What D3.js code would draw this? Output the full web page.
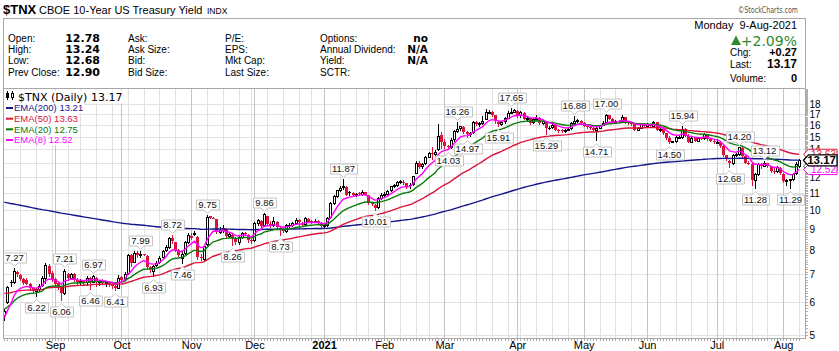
<!DOCTYPE html>
<html><head><meta charset="utf-8">
<script src="https://cdn.jsdelivr.net/npm/d3@7"></script>
<style>html,body{margin:0;padding:0;background:#fff}svg{display:block}</style>
</head><body><svg id="chart" width="839" height="351"></svg>
<script>
// ---------------- DATA ----------------
const firstDay = "2020-08-10", lastDay = "2021-08-09";
const holidays = ["2020-09-07","2020-11-26","2020-12-25","2021-01-01","2021-01-18","2021-02-15","2021-04-02","2021-05-31","2021-07-05"];

const open = [5.60,6.02,6.72,6.72,7.10,6.98,6.84,6.80,6.62,6.50,
6.38,6.45,6.60,6.86,7.34,7.06,6.82,6.68,6.52,6.30,
7.02,6.86,7.00,6.80,6.70,6.74,6.70,6.86,6.72,6.86,
6.70,6.76,6.68,6.70,6.62,6.58,6.50,6.90,6.82,7.05,
7.80,7.50,7.90,7.80,7.82,7.76,7.30,7.12,7.38,7.50,
7.70,8.00,8.15,8.56,8.36,8.00,7.66,7.90,8.40,8.62,
8.80,8.60,7.70,7.62,8.30,9.66,9.58,9.50,8.86,8.96,
9.02,8.66,8.70,8.52,8.36,8.60,8.82,8.72,8.46,8.45,
9.30,9.42,9.20,9.66,9.26,9.20,9.36,9.05,8.95,8.90,
9.22,9.20,9.30,9.46,9.30,9.25,9.50,9.42,9.42,9.40,
9.30,9.15,9.20,9.60,10.40,10.80,11.20,11.35,11.35,11.05,
10.98,10.90,10.98,10.94,11.05,10.85,10.42,10.30,10.15,10.72,
10.86,10.95,11.15,11.40,11.50,11.70,11.70,11.60,11.50,11.55,
12.30,13.00,12.75,12.95,13.45,13.72,13.65,14.00,15.20,14.55,
14.30,14.16,14.80,15.50,15.80,15.86,15.40,15.30,15.40,16.30,
16.10,16.25,16.60,17.20,17.20,16.90,16.30,16.10,16.35,16.70,
17.15,17.26,17.35,16.90,17.15,16.60,16.65,16.30,16.60,16.70,
16.20,16.30,15.80,15.85,16.00,15.60,15.55,15.50,15.60,15.75,
16.20,16.38,16.40,16.20,15.95,15.85,15.75,15.60,15.80,16.05,
16.30,16.90,16.60,16.35,16.42,16.40,16.75,16.30,16.25,16.10,
15.60,15.80,16.10,15.90,16.10,15.90,16.30,15.60,15.70,15.30,
14.90,14.60,14.65,15.00,15.00,15.70,15.10,14.62,14.90,14.70,
14.90,14.90,15.20,14.80,14.70,14.56,14.60,14.30,13.55,13.10,
12.95,13.60,13.65,14.10,13.50,13.00,12.90,11.80,12.20,12.90,
12.80,12.95,12.75,12.40,12.40,12.65,12.20,11.75,11.80,11.85,
12.25,12.78];
const high = [5.78,6.58,6.80,7.27,7.14,7.00,6.86,6.88,6.66,6.52,
6.50,6.62,6.92,7.45,7.40,7.15,6.88,6.72,6.58,7.21,
7.06,7.05,7.05,6.85,6.82,6.78,6.95,6.90,6.97,6.90,
6.80,6.82,6.75,6.72,6.70,6.62,6.98,6.95,7.08,7.82,
7.86,7.95,7.96,7.99,7.84,7.78,7.35,7.38,7.55,7.75,
8.02,8.22,8.62,8.72,8.40,8.05,7.95,8.42,8.80,8.82,
8.90,8.66,7.82,8.25,9.75,9.70,9.60,9.52,9.10,9.20,
9.06,8.86,8.76,8.60,8.66,8.86,8.86,8.76,8.52,9.36,
9.50,9.46,9.86,9.70,9.40,9.60,9.40,9.12,9.10,9.25,
9.30,9.35,9.55,9.50,9.38,9.60,9.55,9.45,9.50,9.45,
9.35,9.30,9.60,10.45,10.85,11.20,11.45,11.87,11.40,11.12,
11.05,11.00,11.05,11.15,11.08,10.90,10.48,10.36,10.75,11.00,
11.05,11.20,11.45,11.55,11.75,11.82,11.80,11.65,11.60,12.10,
13.15,13.10,12.96,13.50,13.82,14.20,13.92,16.14,15.40,14.80,
14.36,14.90,15.60,16.26,15.96,15.90,15.50,15.40,16.40,16.40,
16.30,16.85,17.55,17.45,17.30,16.95,16.35,16.40,16.80,17.30,
17.65,17.50,17.40,17.35,17.20,16.85,16.70,16.70,16.90,16.75,
16.50,16.35,15.95,16.15,16.05,15.70,15.70,15.70,15.80,16.30,
16.88,16.60,16.45,16.30,16.05,16.00,15.85,15.90,16.05,16.35,
17.00,16.95,16.65,16.50,16.50,16.90,16.80,16.40,16.30,16.15,
15.85,16.15,16.20,16.20,16.15,16.35,16.30,15.75,15.75,15.35,
15.10,14.70,15.05,15.10,15.94,15.80,15.25,15.00,14.95,14.95,
14.95,15.30,15.25,14.90,14.75,14.80,14.65,14.35,13.60,13.20,
13.65,13.75,14.20,14.15,13.55,13.10,12.95,12.30,12.95,13.00,
13.12,13.00,12.80,12.60,12.75,12.70,12.25,11.85,11.90,12.25,
13.05,13.24];
const low = [5.45,5.98,6.55,6.68,6.92,6.78,6.62,6.62,6.42,6.30,
6.22,6.40,6.55,6.66,6.95,6.75,6.55,6.45,6.06,6.28,
6.80,6.82,6.74,6.64,6.65,6.62,6.60,6.46,6.70,6.58,
6.60,6.62,6.58,6.55,6.50,6.41,6.48,6.72,6.80,7.02,
7.35,7.48,7.72,7.72,7.78,7.22,7.10,6.93,7.34,7.45,
7.65,7.95,8.10,8.35,7.95,7.75,7.46,7.85,8.35,8.50,
8.72,7.62,7.58,7.58,8.25,9.55,9.56,8.80,8.80,8.86,
8.60,8.60,8.26,8.30,8.30,8.55,8.70,8.40,8.35,8.42,
9.20,9.05,9.18,9.20,9.12,9.15,9.00,8.73,8.85,8.85,
9.10,9.15,9.25,9.05,9.15,9.20,9.35,9.30,9.35,9.25,
9.10,9.08,9.15,9.58,10.35,10.75,11.10,11.25,10.85,10.85,
10.85,10.84,10.88,10.90,10.85,10.35,10.28,10.01,10.10,10.65,
10.80,10.90,11.10,11.35,11.45,11.60,11.55,11.30,11.30,11.50,
12.25,12.60,12.60,12.90,13.40,13.30,13.50,13.95,14.10,14.10,
14.03,14.10,14.70,15.40,15.60,15.35,14.97,15.10,15.35,16.00,
15.90,16.10,16.55,17.10,16.85,16.25,15.91,16.00,16.25,16.65,
17.10,17.20,16.80,16.80,16.55,16.50,16.15,16.25,16.55,16.10,
16.15,15.29,15.70,15.80,15.55,15.45,15.40,15.45,15.55,15.70,
16.10,16.28,16.20,15.90,15.75,15.70,15.50,14.71,15.75,16.00,
16.25,16.55,16.25,16.30,16.30,16.35,16.25,16.15,16.05,15.55,
15.55,15.75,15.85,15.85,15.85,15.85,15.55,15.50,15.25,14.85,
14.50,14.55,14.60,14.90,14.95,15.05,14.55,14.58,14.65,14.65,
14.80,14.85,14.75,14.65,14.51,14.52,14.20,13.50,13.20,12.68,
12.90,13.50,13.60,13.45,12.95,12.90,11.50,11.28,12.15,12.65,
12.75,12.70,12.35,12.30,12.35,12.20,11.70,11.50,11.29,11.80,
12.20,12.68];
const close = [5.70,6.52,6.66,7.12,7.00,6.82,6.68,6.65,6.48,6.38,
6.45,6.58,6.86,7.36,7.02,6.80,6.64,6.55,6.30,7.15,
6.86,7.00,6.80,6.70,6.74,6.70,6.88,6.72,6.94,6.70,
6.76,6.68,6.71,6.60,6.58,6.50,6.86,6.80,7.02,7.80,
7.45,7.90,7.78,7.82,7.80,7.28,7.20,7.35,7.46,7.66,
7.96,8.16,8.56,8.42,8.00,7.80,7.86,8.36,8.70,8.68,
8.82,7.70,7.66,8.20,9.60,9.58,9.57,8.85,8.96,9.06,
8.66,8.76,8.56,8.36,8.60,8.80,8.76,8.46,8.42,9.30,
9.46,9.16,9.76,9.26,9.20,9.40,9.10,8.95,8.90,9.20,
9.21,9.30,9.48,9.35,9.20,9.55,9.38,9.35,9.40,9.30,
9.15,9.20,9.55,10.40,10.80,11.15,11.30,11.40,10.90,10.98,
10.90,10.96,10.94,11.05,10.90,10.40,10.36,10.14,10.70,10.86,
10.95,11.10,11.40,11.50,11.66,11.72,11.60,11.36,11.45,12.05,
12.98,12.72,12.90,13.45,13.70,13.65,13.82,15.10,14.60,14.30,
14.16,14.75,15.50,15.70,15.90,15.40,15.25,15.32,16.30,16.10,
16.22,16.40,17.20,17.26,16.90,16.35,16.10,16.30,16.65,17.10,
17.26,17.40,16.85,17.20,16.60,16.70,16.25,16.60,16.70,16.20,
16.35,15.75,15.78,16.05,15.60,15.55,15.50,15.60,15.70,16.20,
16.35,16.45,16.25,15.95,15.85,15.75,15.60,15.80,16.00,16.25,
16.90,16.60,16.30,16.42,16.40,16.80,16.30,16.25,16.10,15.60,
15.80,16.10,15.90,16.10,15.90,16.30,15.60,15.70,15.30,14.90,
14.60,14.65,15.00,15.02,15.70,15.10,14.62,14.90,14.70,14.90,
14.88,15.25,14.80,14.70,14.56,14.60,14.30,13.55,13.25,12.95,
13.60,13.65,14.15,13.50,13.00,12.95,11.80,12.20,12.90,12.75,
13.00,12.80,12.40,12.35,12.70,12.25,11.75,11.80,11.85,12.20,
12.90,13.17];

const emaPeriods = [200, 50, 20, 8];
const emaStart   = [10.45, 6.30, 5.77, 5.50];   // indicator level at the first visible bar
const emaLast    = ["13.21", "13.63", "12.75", "12.52"];
const emaColors  = ["#16168c", "#dc143c", "#0a7a0a", "#ff00ff"];

const yTicks = [5,6,7,8,9,10,11,12,13,14,15,16,17,18];

const labelBars   = [3,10,18,19,27,28,35,43,47,53,56,64,72,82,87,107,117,140,143,146,156,160,171,180,187,190,210,214,229,232,237,240,248];
const labelValues = ["7.27","6.22","6.06","7.21","6.46","6.97","6.41","7.99","6.93","8.72","7.46","9.75","8.26","9.86","8.73","11.87","10.01","14.03","16.26","14.97","15.91","17.65","15.29","16.88","14.71","17.00","14.50","15.94","12.68","14.20","11.28","13.12","11.29"];
const labelKinds  = ["H","L","L","H","L","H","L","H","L","H","L","H","L","H","L","H","L","L","H","L","L","H","L","H","L","H","L","H","L","H","L","H","L"];

const quoteCol1 = ["Open:","High:","Low:","Prev Close:"];
const quoteVal1 = ["12.78","13.24","12.68","12.90"];
const quoteCol2 = ["Ask:","Ask Size:","Bid:","Bid Size:"];
const quoteCol3 = ["P/E:","EPS:","Mkt Cap:","Last Size:"];
const quoteCol4 = ["Options:","Annual Dividend:","Yield:","SCTR:"];
const quoteVal4 = ["no","N/A","N/A",""];
const rightLabels = ["Chg:","Last:","Volume:"];
const rightValues = ["+0.27","13.17","0"];
const lastPrice = "13.17", pctChange = "+2.09%", quoteDate = "Monday  9-Aug-2021";

// ---------------- DRAW ----------------
const SANS = '"Liberation Sans", Arial, sans-serif';
const VER  = '"DejaVu Sans", Verdana, sans-serif';
const svg = d3.select("#chart");
const PL = 3.5, PR = 805.5, PT = 88.5, PB = 338.5;

const iso = d3.utcFormat("%Y-%m-%d");
const hol = new Set(holidays);
const d0 = new Date(firstDay + "T00:00:00Z"), d1 = new Date(lastDay + "T00:00:00Z");
const days = d3.utcDay.range(d0, d3.utcDay.offset(d1, 1))
  .filter(d => d.getUTCDay() % 6 !== 0 && !hol.has(iso(d)));
const N = close.length;

const x = d3.scaleLinear().domain([0, N - 1]).range([4.3, 799]);
const y = d3.scaleLog().domain([4.92, 19.68]).range([338, 88]);
const col = i => Math.round(x(i));

// header
svg.append("rect").attr("x", PL).attr("y", 18.5).attr("width", PR - PL).attr("height", PT - 18.5)
  .attr("fill", "#fff").attr("stroke", "#a8a8a8");
const title = svg.append("g");
title.append("text").attr("x", 3).attr("y", 13.5).attr("font-family", SANS).attr("font-weight", "bold")
  .attr("font-size", 13).text("$TNX");
title.append("text").attr("x", 39).attr("y", 13.5).attr("font-family", SANS).attr("font-size", 11).text("CBOE 10-Year US Treasury Yield");
title.append("text").attr("x", 207).attr("y", 13.5).attr("font-family", SANS).attr("font-size", 8.5).text("INDX");
svg.append("text").attr("x", 798).attr("y", 13).attr("text-anchor", "end").attr("font-family", VER)
  .attr("font-size", 9).attr("fill", "#555").attr("textLength", 60).attr("lengthAdjust", "spacingAndGlyphs")
  .text("\u00A9StockCharts.com");

const rowY = [42, 53, 64, 76];
function colText(arr, xx, opts) {
  svg.append("g").selectAll("text").data(arr).join("text")
    .attr("x", xx).attr("y", (d, i) => rowY[i])
    .attr("font-family", opts.font || SANS).attr("font-size", opts.size || 10)
    .attr("font-weight", opts.bold ? "bold" : null)
    .attr("text-anchor", opts.anchor || "start").text(d => d);
}
colText(quoteCol1, 8, {});
colText(quoteVal1, 100, {font: VER, size: 11, bold: true, anchor: "end"});
colText(quoteCol2, 128, {});
colText(quoteCol3, 225, {});
colText(quoteCol4, 320, {});
colText(quoteVal4, 428, {font: VER, size: 10.5, bold: true, anchor: "end"});

svg.append("text").attr("x", 797).attr("y", 29).attr("text-anchor", "end").attr("font-family", SANS)
  .attr("font-size", 11).attr("xml:space", "preserve").text(quoteDate);
svg.append("path").attr("d", "M731,45 L736,35.5 L741,45 Z").attr("fill", "#2f8a2f");
svg.append("text").attr("x", 797).attr("y", 45.5).attr("text-anchor", "end").attr("font-family", VER)
  .attr("font-size", 14).attr("fill", "#2f8a2f").text(pctChange);
const rY = [56, 68, 82];
svg.append("g").selectAll("text").data(rightLabels).join("text")
  .attr("x", 730).attr("y", (d, i) => rY[i]).attr("font-family", SANS).attr("font-size", 10).text(d => d);
svg.append("g").selectAll("text").data(rightValues).join("text")
  .attr("x", 797).attr("y", (d, i) => rY[i]).attr("text-anchor", "end").attr("font-family", SANS)
  .attr("font-weight", "bold").attr("font-size", (d, i) => i === 1 ? 12 : 11).text(d => d);

// plot background + grid
svg.append("rect").attr("x", PL).attr("y", PT).attr("width", PR - PL).attr("height", PB - PT).attr("fill", "#fff");
const grid = svg.append("g").attr("shape-rendering", "crispEdges");
grid.selectAll("line.h").data(yTicks).join("line")
  .attr("x1", PL).attr("x2", PR).attr("y1", d => Math.round(y(d)) + 0.5).attr("y2", d => Math.round(y(d)) + 0.5)
  .attr("stroke", "#e2e2e2");
const weekIdx = d3.range(1, N).filter(i => days[i] && +d3.utcMonday.floor(days[i]) !== +d3.utcMonday.floor(days[i - 1]));
const monthIdx = d3.range(1, N).filter(i => days[i] && days[i].getUTCMonth() !== days[i - 1].getUTCMonth());
grid.selectAll("line.w").data(weekIdx).join("line")
  .attr("x1", i => col(i) + 0.5).attr("x2", i => col(i) + 0.5).attr("y1", PT).attr("y2", PB)
  .attr("stroke", "#e2e2e2");
grid.selectAll("line.m").data(monthIdx).join("line")
  .attr("x1", i => col(i) + 0.5).attr("x2", i => col(i) + 0.5).attr("y1", PT).attr("y2", PB)
  .attr("stroke", "#c4c4c4").attr("stroke-width", 1.5);

// clip
svg.append("clipPath").attr("id", "plotclip").append("rect")
  .attr("x", PL + 0.5).attr("y", PT + 0.5).attr("width", PR - PL - 1).attr("height", PB - PT - 1);
const plot = svg.append("g").attr("clip-path", "url(#plotclip)");

// EMAs
function ema(seed, period) {
  const a = 2 / (period + 1), out = [seed];
  for (let i = 1; i < N; i++) out.push(out[i - 1] + a * (close[i] - out[i - 1]));
  return out;
}
const emaSeries = emaPeriods.map((p, k) => ema(emaStart[k], p));

// candles
const candles = plot.append("g").attr("shape-rendering", "crispEdges");
d3.range(N).forEach(i => {
  const o = open[i], c = close[i];
  const h = Math.max(high[i], o, c), l = Math.min(low[i], o, c);
  const color = (i === 0 || c >= close[i - 1]) ? "#000" : "#d8143a";
  const n = col(i);
  const yt = Math.round(y(Math.max(o, c))), yb = Math.round(y(Math.min(o, c)));
  candles.append("line").attr("x1", n + 0.5).attr("x2", n + 0.5)
    .attr("y1", Math.round(y(h))).attr("y2", Math.round(y(l)) + 1).attr("stroke", color);
  if (c >= o) {
    candles.append("rect").attr("x", n - 0.5).attr("y", yt + 0.5).attr("width", 2)
      .attr("height", Math.max(1, yb - yt)).attr("fill", "#fff").attr("stroke", color);
  } else {
    candles.append("rect").attr("x", n - 1).attr("y", yt).attr("width", 3)
      .attr("height", Math.max(1, yb - yt)).attr("fill", color);
  }
});

const line = d3.line().x((d, i) => x(i)).y(d => y(d));
emaSeries.forEach((s, k) => {
  plot.append("path").attr("d", line(s)).attr("fill", "none")
    .attr("stroke", emaColors[k]).attr("stroke-width", 1.4);
});

// value labels
const lab = svg.append("g");
labelBars.forEach((b, k) => {
  const v = +labelValues[k], cx = col(b) + 0.5;
  const t = lab.append("text").attr("font-family", SANS).attr("font-size", 9.5).attr("text-anchor", "middle")
    .attr("fill", "#111").text(labelValues[k]);
  const w = t.node().getComputedTextLength() + 4, hh = 10;
  const l = Math.round(cx - w / 2) + 0.5, r = l + Math.round(w);
  let d, ty;
  if (labelKinds[k] === "H") {
    const tip = Math.round(y(v)) - 1.5, b2 = tip - 3.5, top = b2 - hh;
    d = `M${l},${top}H${r}V${b2}H${cx + 3.5}L${cx},${tip}L${cx - 3.5},${b2}H${l}Z`;
    ty = top + hh / 2;
  } else {
    const tip = Math.round(y(v)) + 3.5, t2 = tip + 3.5, bot = t2 + hh;
    d = `M${l},${t2}H${cx - 3.5}L${cx},${tip}L${cx + 3.5},${t2}H${r}V${bot}H${l}Z`;
    ty = t2 + hh / 2;
  }
  lab.insert("path", "text").attr("d", d).attr("fill", "#fff").attr("stroke", "#c4c4c4");
  t.attr("x", cx).attr("y", ty).attr("dy", "0.35em");
});
lab.selectAll("text").raise();

// frame
svg.append("rect").attr("x", PL).attr("y", PT).attr("width", PR - PL).attr("height", PB - PT)
  .attr("fill", "none").attr("stroke", "#a8a8a8").attr("shape-rendering", "crispEdges");

// bottom axis: tiny ticks per bar + month labels
const ax = svg.append("g").attr("shape-rendering", "crispEdges");
ax.selectAll("line").data(d3.range(N)).join("line")
  .attr("x1", i => col(i) + 0.5).attr("x2", i => col(i) + 0.5).attr("y1", PB + 0.5).attr("y2", PB + 2.5)
  .attr("stroke", "#aaa");
const xAxis = d3.axisBottom(x).tickValues(monthIdx).tickSize(0)
  .tickFormat(i => days[i].getUTCMonth() === 0 ? d3.utcFormat("%Y")(days[i]) : d3.utcFormat("%b")(days[i]));
const xg = svg.append("g").attr("transform", `translate(0,${PB})`).call(xAxis);
xg.select(".domain").remove();
xg.selectAll("text").attr("font-family", SANS).attr("font-size", 11).attr("fill", "#000")
  .attr("y", 10.5).attr("dy", null)
  .attr("font-weight", i => days[i].getUTCMonth() === 0 ? "bold" : null);

// right axis
const minor = d3.range(50, 197).map(v => v / 10);
svg.append("g").attr("shape-rendering", "crispEdges").selectAll("line").data(minor).join("line")
  .attr("x1", PR).attr("x2", PR + 2.5).attr("y1", d => Math.round(y(d)) + 0.5).attr("y2", d => Math.round(y(d)) + 0.5)
  .attr("stroke", "#b0b0b0");
const yAxis = d3.axisRight(y).tickValues(yTicks).tickSize(0).tickFormat(d3.format("d"));
const yg = svg.append("g").attr("transform", `translate(${PR},0)`).call(yAxis);
yg.select(".domain").remove();
yg.selectAll("text").attr("font-family", SANS).attr("font-size", 10).attr("fill", "#000").attr("x", 4);

// right value tags
function tag(v, color, txt, bold, size) {
  const cy = y(v), hh = bold ? 5.5 : 5;
  const g = svg.append("g");
  g.append("path").attr("d", `M${PR - 2},${cy}L${PR + 3},${cy - hh}H837V${cy + hh}H${PR + 3}Z`)
    .attr("fill", "#fff").attr("stroke", color).attr("stroke-width", bold ? 1.2 : 1);
  g.append("text").attr("x", 836).attr("y", cy).attr("dy", "0.35em").attr("text-anchor", "end")
    .attr("font-family", SANS).attr("font-size", size).attr("font-weight", bold ? "bold" : null)
    .attr("fill", color).text(txt);
}
tag(+emaLast[0], emaColors[0], emaLast[0], false, 10);
tag(+emaLast[2], emaColors[2], emaLast[2], false, 10);
tag(+emaLast[3], emaColors[3], emaLast[3], false, 10);
tag(+emaLast[1], emaColors[1], emaLast[1], false, 10);
tag(+lastPrice, "#000", lastPrice, true, 11.5);

// legend
const lg = svg.append("g");
const l0 = lg.append("text").attr("x", 18).attr("y", 100.5).attr("font-family", VER).attr("font-size", 11)
  .text(`$TNX (Daily) ${lastPrice}`);
const bb0 = l0.node().getBBox();
lg.insert("rect", "text").attr("x", 5).attr("y", bb0.y).attr("width", bb0.x + bb0.width - 4).attr("height", bb0.height).attr("fill", "#fff");
lg.append("line").attr("x1", 7.5).attr("x2", 7.5).attr("y1", 91).attr("y2", 100).attr("stroke", "#000");
lg.append("rect").attr("x", 6).attr("y", 93).attr("width", 3).attr("height", 5).attr("fill", "#000");
lg.append("line").attr("x1", 12.5).attr("x2", 12.5).attr("y1", 91).attr("y2", 100).attr("stroke", "#000");
lg.append("rect").attr("x", 11.5).attr("y", 93.5).attr("width", 2).attr("height", 4).attr("fill", "#fff").attr("stroke", "#000");
const legY = [108, 118.7, 129.3, 140];
emaPeriods.forEach((p, k) => {
  const t = lg.append("text").attr("x", 14).attr("y", legY[k]).attr("dy", "0.35em").attr("font-family", SANS)
    .attr("font-size", 9.5).attr("fill", emaColors[k]).text(`EMA(${p}) ${emaLast[k]}`);
  const bb = t.node().getBBox();
  lg.insert("rect", "text").attr("x", 5).attr("y", bb.y).attr("width", bb.x + bb.width - 4).attr("height", bb.height).attr("fill", "#fff");
  lg.append("line").attr("x1", 6).attr("x2", 13).attr("y1", legY[k]).attr("y2", legY[k])
    .attr("stroke", emaColors[k]).attr("stroke-width", 2);
});
</script></body></html>
